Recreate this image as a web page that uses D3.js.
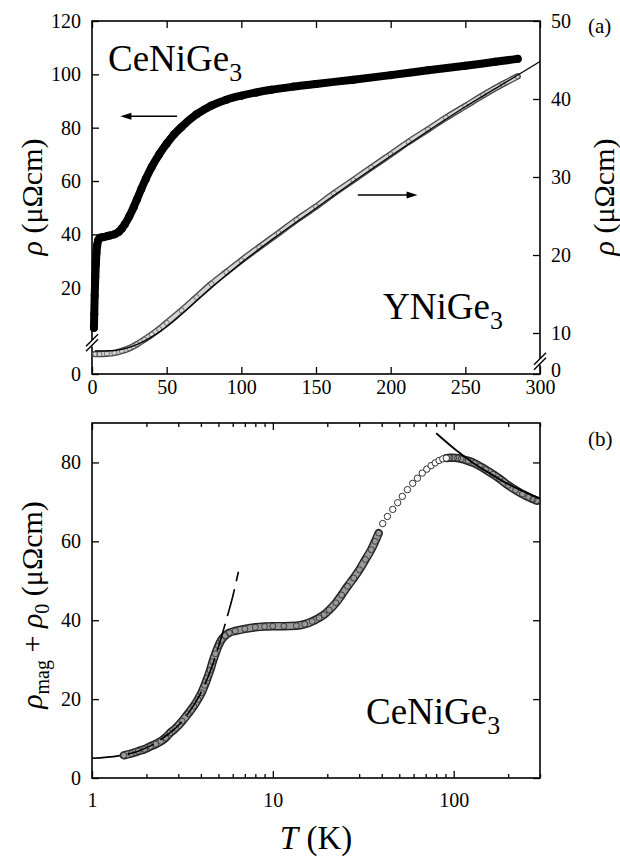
<!DOCTYPE html>
<html><head><meta charset="utf-8">
<script src="https://cdn.jsdelivr.net/npm/d3@7"></script>
<style>
body{margin:0;background:#fff}
svg{display:block}
text{font-family:'Liberation Serif','Tinos','Times New Roman',Times,'Nimbus Roman','DejaVu Serif',serif;fill:#000}
</style>
</head><body>
<svg id="c" width="620" height="857"></svg>
<script>
// ---------------- DATA ----------------
// Panel (a): CeNiGe3, left axis (μΩcm)
const ceT   = [1.3,1.5,1.8,2.2,2.6,3,3.5,4,5,6,8,10,12,15,18,20,22,25,28,30,33,36,40,45,50,55,60,70,80,90,100,110,120,135,150,175,200,225,250,270,285];
const ceRho = [5,10,17,24,29,33,36,37.5,38.5,38.8,39,39.3,39.6,40.0,41.0,42.2,43.8,46.8,50.3,53,57,60.8,65.3,70,74,77.5,80.3,85,88.3,90.5,92,93.2,94.2,95.4,96.4,98,99.7,101.5,103.2,104.7,105.8];
// Panel (a): YNiGe3, right axis (μΩcm)
const yT    = [2,5,10,15,20,25,30,35,40,45,50,60,70,80,90,100,112,125,137,150,162,175,187,200,212,225,237,250,262,275,285];
const yRho  = [7.3,7.3,7.35,7.45,7.7,8.05,8.55,9.15,9.8,10.5,11.3,12.9,14.6,16.3,17.8,19.3,21.0,22.8,24.5,26.2,27.9,29.6,31.2,32.9,34.5,36.1,37.6,39.1,40.5,41.9,42.9];
// Panel (a): YNiGe3 fit line
const yFitT   = [2,10,20,30,40,50,60,70,80,100,125,150,175,200,225,250,275,300];
const yFitRho = [7.7,7.7,7.9,8.5,9.5,10.8,12.4,14.1,15.8,19.0,22.6,26.0,29.4,32.7,35.9,39.0,41.9,44.8];
// Panel (a) arrows: [T start, T end], value
const arrowCeT = [57,19], arrowCeV = 84.3;
const arrowYT  = [178,218], arrowYV = 27.7;
// Panel (a) ticks
const xTicksA = [0,50,100,150,200,250,300];
const leftTicksA = [0,20,40,60,80,100,120];
const rightTicksA = [0,10,20,30,40,50];

// Panel (b): rho_mag + rho_0 of CeNiGe3
const magLowT   = [1.5,1.65,1.8,1.95,2.1,2.25,2.4,2.55,2.7,2.9,3.15,3.4,3.65,3.85,4.03,4.2,4.35,4.5,4.65,4.81,5.0,5.19,5.45,5.74,6.2,7.0,8.0,9.0,10,11.5,13.5,15,16.5,18,19.2,20.5,22.3,24,25.9,28,30.1,32.5,35,36.8,38.5];
const magLowRho = [5.75,6.2,6.8,7.3,8.0,8.6,9.3,10.2,11.4,12.6,14.4,16.3,18.2,19.9,21.6,23.5,25.4,27.3,29.5,31.5,33.5,35.0,36.1,36.8,37.3,37.8,38.2,38.4,38.5,38.5,38.6,39.0,39.7,40.6,41.4,42.6,44.4,46.4,48.6,50.7,52.8,55.4,57.9,60.0,62.1];
const magMidT   = [40.5,43,46,49,52,55.5,59.3,63,67,71,75,79,83,87,91];
const magMidRho = [64.5,66.3,68.1,69.8,71.4,73.1,74.7,76.0,77.3,78.3,79.2,79.9,80.5,80.9,81.1];
const magHighT   = [91,95,100,105,110,120,130,140,150,165,180,200,220,240,260,275,288];
const magHighRho = [81.1,81.2,81.2,81.1,80.9,80.4,79.8,79.0,78.2,77.0,75.8,74.2,73.0,72.0,71.2,70.7,70.3];
// Panel (b) fits
const lowFitT   = [1,1.4,1.8,2.2,2.6,3,3.5,4,4.5,5,5.5,6,6.45];
const lowFitRho = [5.0,5.6,6.8,8.6,10.9,13.3,17.2,21.6,27.0,33.2,39.7,46.0,52.3];
const highFitT   = [80,100,127,160,200,250,300];
const highFitRho = [87.4,83.6,80.0,77.1,74.5,72.4,70.8];
// Panel (b) ticks
const xMajorB = [1,10,100];
const xMinorB = [2,3,4,5,6,7,8,9,20,30,40,50,60,70,80,90,200,300];
const yTicksB = [0,20,40,60,80];

// ---------------- DRAW ----------------
const FONT = "'Liberation Serif','Tinos','Times New Roman',Times,'Nimbus Roman','DejaVu Serif',serif";
const svg = d3.select("#c");
const zip = (a,b)=>a.map((d,i)=>[d,b[i]]);

function styleAxis(g, size){
  g.attr("font-family",FONT).attr("font-size",size);
  g.select(".domain").remove();
  g.selectAll(".tick line").attr("stroke","#000").attr("stroke-width",1.3);
  g.selectAll(".tick text").attr("fill","#000");
}

// ===== Panel (a) =====
const xA = d3.scaleLinear().domain([0,300]).range([92,540]);
const yL = d3.scaleLinear().domain([0,2,120]).range([374,335.7,21]);
const yR = d3.scaleLinear().domain([0,6,50]).range([374,364.2,21]);

const gA = svg.append("g");
gA.append("g").attr("transform","translate(0,374)")
  .call(d3.axisBottom(xA).tickValues(xTicksA).tickSize(-7).tickPadding(6).tickFormat(d3.format("d")))
  .call(g=>styleAxis(g,20));
gA.append("g").attr("transform","translate(0,21)")
  .call(d3.axisTop(xA).tickValues(xTicksA).tickSize(-7).tickFormat(""))
  .call(g=>styleAxis(g,20));
gA.append("g").attr("transform","translate(92,0)")
  .call(d3.axisLeft(yL).tickValues(leftTicksA).tickSize(-7).tickPadding(11).tickFormat(d3.format("d")))
  .call(g=>styleAxis(g,20));
gA.append("g").attr("transform","translate(540,0)")
  .call(d3.axisRight(yR).tickValues(rightTicksA).tickSize(-7).tickPadding(11).tickFormat(d3.format("d")))
  .call(g=>styleAxis(g,20))
  .call(g=>g.selectAll(".tick text").filter(d=>d===0).attr("dy","0.1em"));

// frame
gA.append("rect").attr("x",92).attr("y",21).attr("width",448).attr("height",353)
  .attr("fill","none").attr("stroke","#000").attr("stroke-width",1.6);

// YNiGe3 data band (open circles)
const lineA_R = d3.line().x(d=>xA(d[0])).y(d=>yR(d[1])).curve(d3.curveMonotoneX);
const yPts = zip(yT,yRho);
gA.append("path").attr("d",lineA_R(yPts)).attr("fill","none").attr("stroke","#4a4a4a").attr("stroke-width",6.5).attr("stroke-linecap","round");
gA.append("path").attr("d",lineA_R(yPts)).attr("fill","none").attr("stroke","#d4d4d4").attr("stroke-width",3.8).attr("stroke-linecap","round");
gA.selectAll("circle.y").data(yPts).enter().append("circle")
  .attr("cx",d=>xA(d[0])).attr("cy",d=>yR(d[1])).attr("r",2.6)
  .attr("fill","none").attr("stroke","#555").attr("stroke-width",0.8);
gA.append("path").attr("d",lineA_R(zip(yFitT,yFitRho))).attr("fill","none").attr("stroke","#000").attr("stroke-width",1.3);

// CeNiGe3 data band (filled circles)
const lineA_L = d3.line().x(d=>xA(d[0])).y(d=>yL(d[1])).curve(d3.curveMonotoneX);
const cePts = zip(ceT,ceRho);
gA.append("path").attr("d",lineA_L(cePts)).attr("fill","none").attr("stroke","#000").attr("stroke-width",8).attr("stroke-linecap","round").attr("stroke-linejoin","round");
gA.selectAll("circle.ce").data(cePts).enter().append("circle")
  .attr("cx",d=>xA(d[0])).attr("cy",d=>yL(d[1])).attr("r",4).attr("fill","#000");

// axis breaks
function axisBreak(g, x, y){
  g.append("rect").attr("x",x-3).attr("y",y-3).attr("width",6).attr("height",6).attr("fill","#fff");
  [0,-5].forEach(o=>{
    g.append("line").attr("x1",x-6).attr("y1",y+8+o).attr("x2",x+6).attr("y2",y-4+o)
      .attr("stroke","#000").attr("stroke-width",1.4);
  });
}
axisBreak(gA, 92, yL(1.6));
axisBreak(gA, 540, yR(6.3));

// arrows
function arrow(g, x1, x2, y){
  const dir = Math.sign(x2-x1);
  g.append("line").attr("x1",x1).attr("y1",y).attr("x2",x2-dir*9).attr("y2",y).attr("stroke","#000").attr("stroke-width",1.5);
  g.append("path").attr("d",`M${x2},${y}L${x2-dir*11},${y-3.5}L${x2-dir*11},${y+3.5}Z`).attr("fill","#000");
}
arrow(gA, xA(arrowCeT[0]), xA(arrowCeT[1]), yL(arrowCeV));
arrow(gA, xA(arrowYT[0]), xA(arrowYT[1]), yR(arrowYV));

// labels
function compound(g, name, x, y, size){
  const t = g.append("text").attr("x",x).attr("y",y).attr("font-size",size);
  t.append("tspan").text(name);
  t.append("tspan").attr("font-size",size*0.7).attr("dy",size*0.28).text("3");
  return t;
}
compound(gA,"CeNiGe",108,71,37);
compound(gA,"YNiGe",383,319,37);
gA.append("text").attr("x",588).attr("y",33).attr("font-size",21).text("(a)");

function rhoLabel(g, cx, cy){
  const t = g.append("text").attr("transform",`translate(${cx},${cy}) rotate(-90)`).attr("text-anchor","middle").attr("font-size",30);
  t.append("tspan").attr("font-style","italic").text("ρ");
  t.append("tspan").text(" (μΩcm)");
}
rhoLabel(gA, 42, 197);
rhoLabel(gA, 614, 197);

// ===== Panel (b) =====
const xB = d3.scaleLog().domain([1,300]).range([92,540]);
const yB = d3.scaleLinear().domain([0,90]).range([778,423]);
const gB = svg.append("g");

gB.append("g").attr("transform","translate(0,778)")
  .call(d3.axisBottom(xB).tickValues(xMajorB).tickSize(-7).tickPadding(15).tickFormat(d3.format("d")))
  .call(g=>styleAxis(g,20));
gB.append("g").attr("transform","translate(0,778)")
  .call(d3.axisBottom(xB).tickValues(xMinorB).tickSize(-4).tickFormat(""))
  .call(g=>styleAxis(g,20));
gB.append("g").attr("transform","translate(0,423)")
  .call(d3.axisTop(xB).tickValues(xMajorB).tickSize(-7).tickFormat(""))
  .call(g=>styleAxis(g,20));
gB.append("g").attr("transform","translate(0,423)")
  .call(d3.axisTop(xB).tickValues(xMinorB).tickSize(-4).tickFormat(""))
  .call(g=>styleAxis(g,20));
gB.append("g").attr("transform","translate(92,0)")
  .call(d3.axisLeft(yB).tickValues(yTicksB).tickSize(-7).tickPadding(11).tickFormat(d3.format("d")))
  .call(g=>styleAxis(g,20));
gB.append("g").attr("transform","translate(540,0)")
  .call(d3.axisRight(yB).tickValues(yTicksB).tickSize(-7).tickFormat(""))
  .call(g=>styleAxis(g,20));
gB.append("rect").attr("x",92).attr("y",423).attr("width",448).attr("height",355)
  .attr("fill","none").attr("stroke","#000").attr("stroke-width",1.6);

const lineB = d3.line().x(d=>xB(d[0])).y(d=>yB(d[1])).curve(d3.curveMonotoneX);
const lowPts = zip(magLowT,magLowRho), midPts = zip(magMidT,magMidRho), highPts = zip(magHighT,magHighRho);
[lowPts, highPts].forEach(p=>{
  gB.append("path").attr("d",lineB(p)).attr("fill","none").attr("stroke","#222").attr("stroke-width",8.5).attr("stroke-linecap","round");
  gB.append("path").attr("d",lineB(p)).attr("fill","none").attr("stroke","#9a9a9a").attr("stroke-width",5.6).attr("stroke-linecap","round");
});
gB.selectAll("circle.d").data(lowPts.concat(highPts)).enter().append("circle")
  .attr("cx",d=>xB(d[0])).attr("cy",d=>yB(d[1])).attr("r",3)
  .attr("fill","none").attr("stroke","#333").attr("stroke-width",0.9);
gB.selectAll("circle.m").data(midPts).enter().append("circle")
  .attr("cx",d=>xB(d[0])).attr("cy",d=>yB(d[1])).attr("r",3.2)
  .attr("fill","#fff").attr("stroke","#333").attr("stroke-width",1);
gB.append("path").attr("d",lineB(zip(lowFitT,lowFitRho))).attr("fill","none").attr("stroke","#000").attr("stroke-width",1.6).attr("stroke-dasharray","28,8");
gB.append("path").attr("d",lineB(zip(highFitT,highFitRho))).attr("fill","none").attr("stroke","#000").attr("stroke-width",1.8);

compound(gB,"CeNiGe",366,724,37);
gB.append("text").attr("x",588).attr("y",446).attr("font-size",21).text("(b)");

// y label panel b
const tb = gB.append("text").attr("transform","translate(42,605) rotate(-90)").attr("text-anchor","middle").attr("font-size",30);
tb.append("tspan").attr("font-style","italic").text("ρ");
tb.append("tspan").attr("font-size",20).attr("dy",7).text("mag");
tb.append("tspan").attr("dy",-7).text(" + ");
tb.append("tspan").attr("font-style","italic").text("ρ");
tb.append("tspan").attr("font-size",20).attr("dy",7).text("0");
tb.append("tspan").attr("dy",-7).text(" (μΩcm)");

// x label panel b
const tx = gB.append("text").attr("x",316).attr("y",849).attr("text-anchor","middle").attr("font-size",33);
tx.append("tspan").attr("font-style","italic").text("T");
tx.append("tspan").text(" (K)");
</script>
</body></html>
